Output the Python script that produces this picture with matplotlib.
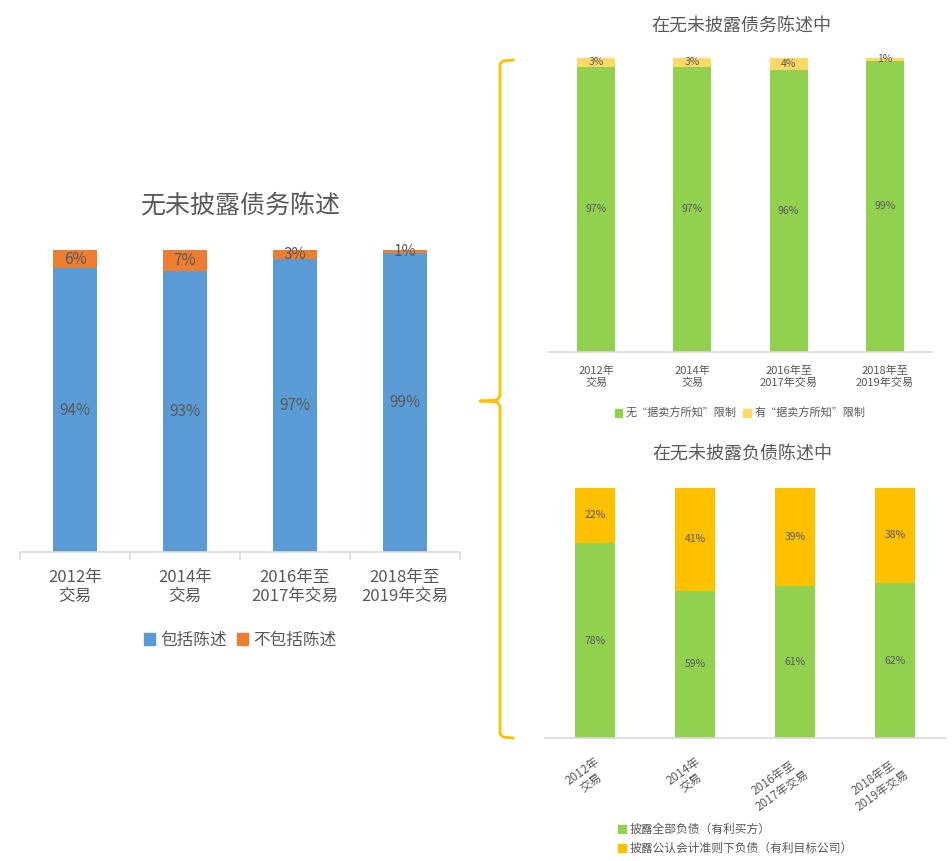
import matplotlib
matplotlib.use("Agg")
import matplotlib.pyplot as plt
from matplotlib.patches import Patch
from matplotlib.lines import Line2D

plt.rcParams["font.family"] = ["Noto Sans CJK SC", "DejaVu Sans"]

# data
left_cats = ["2012年\n交易", "2014年\n交易", "2016年至\n2017年交易", "2018年至\n2019年交易"]
left_incl = [94, 93, 97, 99]
left_excl = [6, 7, 3, 1]

top_cats = ["2012年\n交易", "2014年\n交易", "2016年至\n2017年交易", "2018年至\n2019年交易"]
top_no_limit = [97, 97, 96, 99]
top_limit = [3, 3, 4, 1]

bot_cats = ["2012年\n交易", "2014年\n交易", "2016年至\n2017年交易", "2018年至\n2019年交易"]
bot_all = [78, 59, 61, 62]
bot_gaap = [22, 41, 39, 38]

W, H = 953, 861
TXT = "#595959"
GRID = "#D9D9D9"

fig = plt.figure(figsize=(W / 100, H / 100), dpi=100)


def px_axes(x0, y0, x1, y1):
    return fig.add_axes([x0 / W, 1 - y1 / H, (x1 - x0) / W, (y1 - y0) / H])


def style(ax, n):
    for s in ["top", "right", "left"]:
        ax.spines[s].set_visible(False)
    ax.spines["bottom"].set_color(GRID)
    ax.spines["bottom"].set_linewidth(1.2)
    ax.set_yticks([])
    ax.set_xlim(-0.5, n - 0.5)
    ax.set_ylim(0, 100)


def stacked(ax, low, high, c_low, c_high, width, fs):
    x = range(len(low))
    b1 = ax.bar(x, low, width=width, color=c_low)
    b2 = ax.bar(x, high, bottom=low, width=width, color=c_high)
    ax.bar_label(b1, labels=[f"{v}%" for v in low], label_type="center",
                 color=TXT, fontsize=fs)
    ax.bar_label(b2, labels=[f"{v}%" for v in high], label_type="center",
                 color=TXT, fontsize=fs)


# left chart
ax1 = px_axes(20, 250, 460, 552)
stacked(ax1, left_incl, left_excl, "#5B9BD5", "#ED7D31", 0.4, 11)
style(ax1, 4)
ax1.set_xticks(range(4))
ax1.set_xticklabels(left_cats, fontsize=12, color=TXT)
ax1.tick_params(axis="x", which="major", length=0, pad=12)
ax1.set_xticks([-0.5, 0.5, 1.5, 2.5, 3.5], minor=True)
ax1.tick_params(axis="x", which="minor", length=6, color=GRID, width=1.2)
fig.text(240 / W, 1 - 205 / H, "无未披露债务陈述", ha="center", va="center",
         fontsize=18, color=TXT, fontweight="light")
fig.legend(handles=[Patch(color="#5B9BD5", label="包括陈述"),
                    Patch(color="#ED7D31", label="不包括陈述")],
           loc="center", bbox_to_anchor=(240 / W, 1 - 640 / H), ncol=2,
           frameon=False, fontsize=12, labelcolor=TXT, handlelength=0.7,
           handleheight=0.7, handletextpad=0.3, columnspacing=0.6)

# top right chart
ax2 = px_axes(548, 58, 933, 352)
stacked(ax2, top_no_limit, top_limit, "#92D050", "#FFD966", 0.395, 7.5)
style(ax2, 4)
ax2.set_xticks(range(4))
ax2.set_xticklabels(top_cats, fontsize=8, color=TXT)
ax2.tick_params(axis="x", length=0, pad=10)
fig.text(741 / W, 1 - 27 / H, "在无未披露债务陈述中", ha="center", va="center",
         fontsize=13, color=TXT)
fig.legend(handles=[Patch(color="#92D050", label="无“据卖方所知”限制"),
                    Patch(color="#FFD966", label="有“据卖方所知”限制")],
           loc="center", bbox_to_anchor=(740 / W, 1 - 413 / H), ncol=2,
           frameon=False, fontsize=8, labelcolor=TXT, handlelength=0.7,
           handleheight=0.7, handletextpad=0.3, columnspacing=0.6)

# bottom right chart
ax3 = px_axes(545, 488, 945, 738)
stacked(ax3, bot_all, bot_gaap, "#92D050", "#FFC000", 0.4, 7.5)
style(ax3, 4)
ax3.set_xticks(range(4))
ax3.set_xticklabels(bot_cats, fontsize=8.5, color=TXT, rotation=35, ha="right",
                    va="top", rotation_mode="anchor", multialignment="center")
ax3.tick_params(axis="x", length=0, pad=12)
fig.text(742 / W, 1 - 455 / H, "在无未披露负债陈述中", ha="center", va="center",
         fontsize=13, color=TXT)
fig.legend(handles=[Patch(color="#92D050", label="披露全部负债（有利买方）"),
                    Patch(color="#FFC000", label="披露公认会计准则下负债（有利目标公司）")],
           loc="upper left", bbox_to_anchor=(612 / W, 1 - 817 / H), ncol=1,
           frameon=False, fontsize=8.5, labelcolor=TXT, handlelength=0.7,
           handleheight=0.7, handletextpad=0.3, labelspacing=0.5,
           borderpad=0)

# brace linking the charts
bx = [513, 503, 500, 500, 497, 480, 497, 500, 500, 503, 513]
by = [60, 61, 64, 396, 400, 401, 402, 406, 734, 737, 738]
fig.add_artist(Line2D([x / W for x in bx], [1 - y / H for y in by],
                      color="#FFC000", lw=2, transform=fig.transFigure))

fig.savefig("out.png", dpi=100)
